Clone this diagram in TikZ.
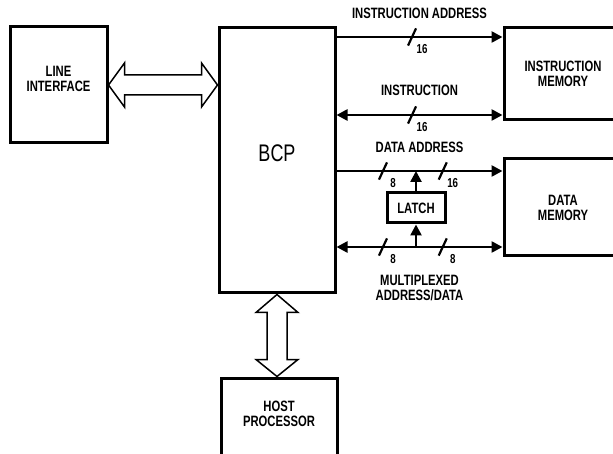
\documentclass[tikz,border=0pt]{standalone}
\usepackage{fontspec}
\setmainfont{Liberation Sans}[FakeStretch=0.75]
\usetikzlibrary{arrows.meta,calc}
\newcommand{\labfont}{\fontsize{15}{15}\selectfont\bfseries}
\newcommand{\numfont}{\fontsize{13}{13}\selectfont\bfseries}

\begin{document}
\begin{tikzpicture}[
    x=1pt, y=-1pt,
    blk/.style={draw, line width=3pt, align=center, inner sep=0pt, font=\labfont},
    bus/.style={line width=2.5pt},
    fat/.style={draw, line width=1.5pt, fill=white, line join=miter},
    slash/.style={draw, line width=2.2pt, minimum width=0pt, minimum height=19pt, inner sep=0pt, rotate=-25},
    num/.style={font=\numfont, xshift=10pt, yshift=-12pt},
    lbl/.style={font=\labfont, align=center},
    >={Triangle[length=11pt,width=11pt]}
]
\useasboundingbox (0,0) rectangle (613,454);
\clip (0,0) rectangle (613,454);

% Blocks
\node[blk, minimum width=97pt, minimum height=116pt, label={[lbl, yshift=6pt]center:LINE\\INTERFACE}] (li) at (58.5,85) {};
\node[blk, minimum width=116pt, minimum height=265pt, label={[font=\fontsize{24}{24}\selectfont, yshift=7pt]center:BCP}] (bcp) at (277,160.5) {};
\node[blk, minimum width=118pt, minimum height=92pt] (imem) at (563,74) {INSTRUCTION\\MEMORY};
\node[blk, minimum width=118pt, minimum height=97pt] (dmem) at (563,207.5) {DATA\\MEMORY};
\node[blk, minimum width=116pt, minimum height=92pt, label={[lbl, yshift=10pt]center:HOST\\PROCESSOR}] (host) at (279,424) {};
\node[blk, minimum width=58pt, minimum height=30pt] (latch) at (416,208) {LATCH};

% Bus rows
\coordinate (ia) at (420,37);
\coordinate (ins) at (420,115);
\coordinate (da) at (420,171);
\coordinate (md) at (420,247);

% Wide transfer arrows
\draw[fat] (li.east) -- ++(16,-22) -- ++(0,12) -- ($(li.east -| bcp.west)+(-16,-10)$) -- ++(0,-12)
    -- (li.east -| bcp.west) -- ++(-16,22) -- ++(0,-12) -- ($(li.east)+(16,10)$) -- ++(0,12) -- cycle;
\draw[fat] (bcp.south) -- ++(21,18) -- ++(-11,0) -- ($(bcp.south |- host.north)+(10,-17)$) -- ++(11,0)
    -- (bcp.south |- host.north) -- ++(-21,-17) -- ++(11,0) -- ($(bcp.south)+(-10,18)$) -- ++(-11,0) -- cycle;

% Buses
\draw[bus,->] (bcp.east |- ia) -- node[slash, pos=0.455] {} node[num, pos=0.455] {16}
    node[lbl, midway, yshift=24pt] {INSTRUCTION ADDRESS} (imem.west |- ia);
\draw[bus,<->] (bcp.east |- ins) -- node[slash, pos=0.455] {} node[num, pos=0.455] {16}
    node[lbl, midway, yshift=25pt] {INSTRUCTION} (imem.west |- ins);
\draw[bus,->] (bcp.east |- da) -- node[slash, pos=0.28] {} node[num, pos=0.28] {8}
    node[slash, pos=0.64] {} node[num, pos=0.64] {16}
    node[lbl, midway, yshift=24pt] {DATA ADDRESS} (dmem.west |- da);
\draw[bus,<->] (bcp.east |- md) -- node[slash, pos=0.28] {} node[num, pos=0.28] {8}
    node[slash, pos=0.64] {} node[num, pos=0.64] {8}
    node[lbl, midway, yshift=-41pt] {MULTIPLEXED\\ADDRESS/DATA} (dmem.west |- md);

% Latch
\draw[bus,->] (latch.north) -- (latch.north |- da);
\draw[bus,->] (latch.north |- md) -- (latch.south);

\end{tikzpicture}
\end{document}
